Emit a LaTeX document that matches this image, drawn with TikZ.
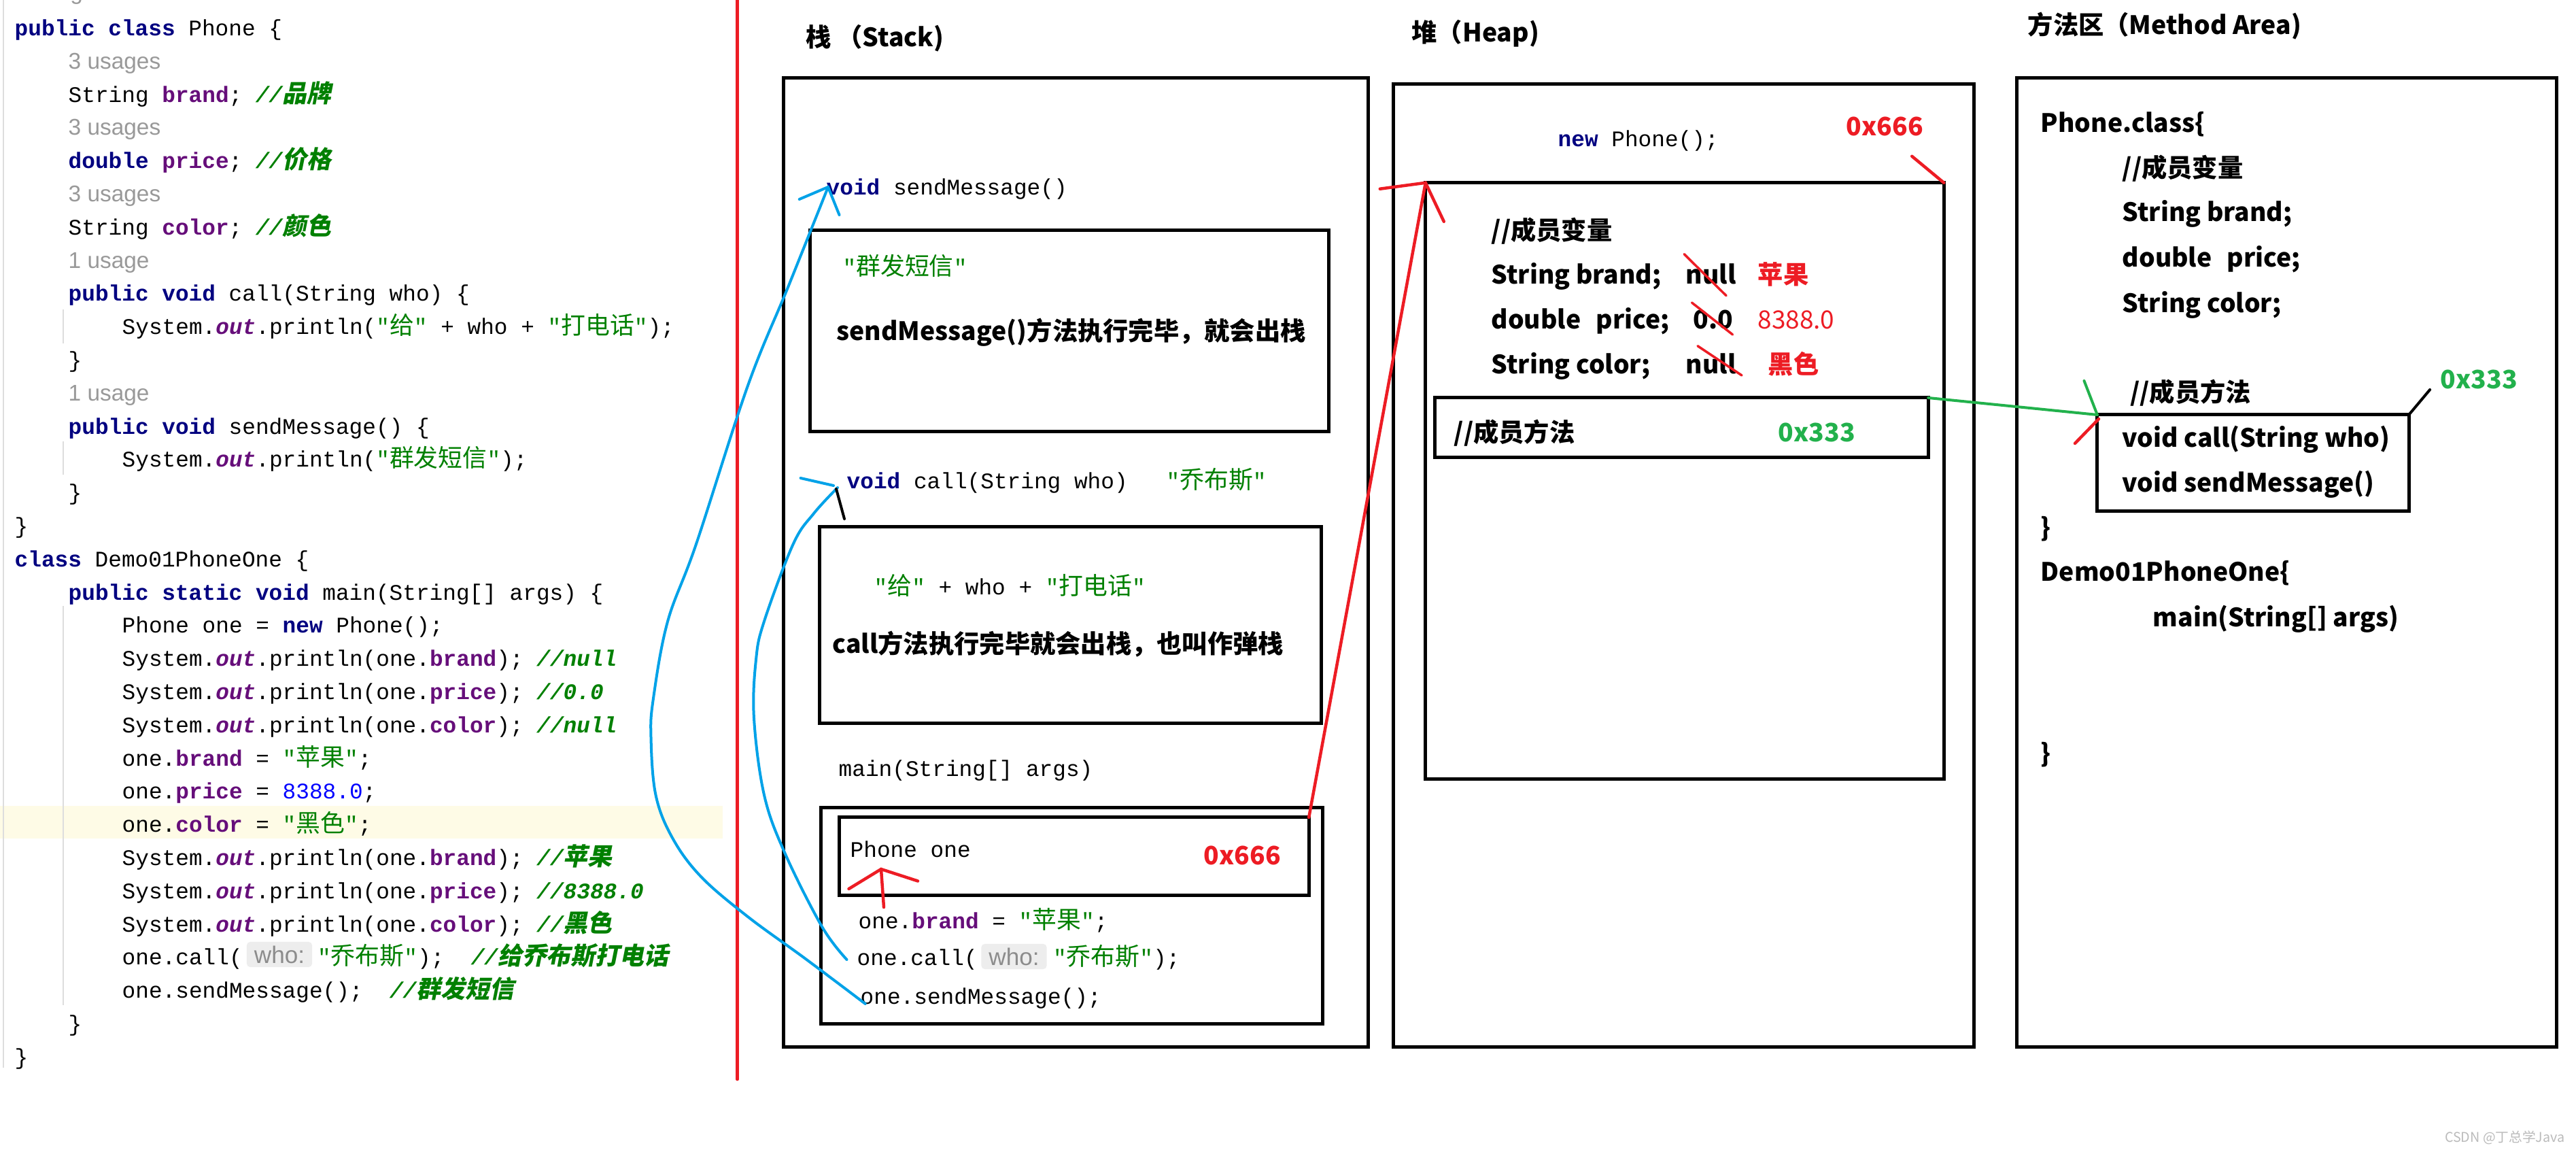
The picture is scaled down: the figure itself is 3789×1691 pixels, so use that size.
\documentclass[tikz,border=0pt]{standalone}
\usepackage{fontspec}
\setmainfont{Liberation Sans}
\setsansfont{Liberation Sans}
\setmonofont{Liberation Mono}
\newfontfamily\zhf{Noto Sans CJK SC}
\newfontfamily\zhfi{Noto Sans CJK SC}[FakeSlant=0.2]
\newfontfamily\yh{Noto Sans CJK SC}
\usetikzlibrary{calc}

\definecolor{kwc}{HTML}{000080}
\definecolor{fldc}{HTML}{660E7A}
\definecolor{strc}{HTML}{008000}
\definecolor{cmtc}{HTML}{008000}
\definecolor{numc}{HTML}{0000FF}
\definecolor{usgc}{HTML}{999999}
\definecolor{hintbg}{HTML}{EDEDED}
\definecolor{hintc}{HTML}{8C8C8C}
\definecolor{pred}{HTML}{ED1C24}
\definecolor{pblue}{HTML}{00A2E8}
\definecolor{pgreen}{HTML}{22B14C}
\definecolor{hlc}{HTML}{FEFBE6}
\definecolor{guide}{HTML}{DDDDDD}
\definecolor{wmc}{HTML}{BBBBBB}

\newcommand\csz{\fontsize{9.32pt}{11pt}\selectfont}
\newcommand\zh[1]{{\zhf\mdseries\upshape\fontsize{10.2pt}{11pt}\selectfont #1}}
\newcommand\zhi[1]{{\color{cmtc}\zhfi\bfseries\fontsize{10.2pt}{11pt}\selectfont #1}}
\newcommand\K[1]{{\color{kwc}\bfseries #1}}
\newcommand\F[1]{{\color{fldc}\bfseries #1}}
\newcommand\Out{{\color{fldc}\bfseries\itshape out}}
\newcommand\Str[1]{{\color{strc}"\zh{#1}"}}
\newcommand\Cm[1]{{\color{cmtc}\bfseries\itshape #1}}
\newcommand\Num[1]{{\color{numc}#1}}

\tikzset{
  box/.style={draw=black, line width=0.05cm, inner sep=0pt, outer sep=0pt},
  code/.style={anchor=base west, inner sep=0pt, font=\csz\ttfamily},
  usg/.style={anchor=base west, inner sep=0pt, font=\fontsize{9.5pt}{11pt}\selectfont\sffamily, text=usgc},
  bt/.style={anchor=base west, inner sep=0pt, font=\yh\bfseries\fontsize{10.6pt}{13pt}\selectfont},
  redl/.style={draw=pred, line width=0.045cm, line cap=round},
  bluel/.style={draw=pblue, line width=0.04cm, line cap=round},
  greenl/.style={draw=pgreen, line width=0.04cm, line cap=round},
  hint/.style={fill=hintbg, rounded corners=0.05cm, inner sep=0pt, minimum width=0.96cm, minimum height=0.37cm, text=hintc, font=\fontsize{10pt}{11pt}\selectfont\sffamily},
}

\begin{document}
\begin{tikzpicture}[x=0.01cm,y=-0.01cm]
\useasboundingbox (0,0) rectangle (3789,1691);
\fill[white] (0,0) rectangle (3789,1691);

% ---------------- code panel ----------------
\fill[hlc] (0,1185) rectangle (1063,1233);
\draw[guide, line width=0.02cm] (5,0) -- (5,1570);
\draw[guide, line width=0.015cm] (93,455) -- (93,505) (93,649) -- (93,698) (93,891) -- (93,1478);

\node[usg] (c0) at (21,0) {2 usages};
\node[code] (c1) at (21,52.5) {\K{public class} Phone \{};
\node[usg] (c2) at (100,101.3) {3 usages};
\node[code] (c3) at (100,150.1) {String \F{brand}; \Cm{//}\zhi{品牌}};
\node[usg] (c4) at (100,198.9) {3 usages};
\node[code] (c5) at (100,247.7) {\K{double} \F{price}; \Cm{//}\zhi{价格}};
\node[usg] (c6) at (100,296.5) {3 usages};
\node[code] (c7) at (100,345.3) {String \F{color}; \Cm{//}\zhi{颜色}};
\node[usg] (c8) at (100,394.1) {1 usage};
\node[code] (c9) at (100,442.9) {\K{public void} call(String who) \{};
\node[code] (c10) at (179,491.7) {System.\Out.println(\Str{给} + who + \Str{打电话});};
\node[code] (c11) at (100,540.5) {\}};
\node[usg] (c12) at (100,589.3) {1 usage};
\node[code] (c13) at (100,638.1) {\K{public void} sendMessage() \{};
\node[code] (c14) at (179,686.9) {System.\Out.println(\Str{群发短信});};
\node[code] (c15) at (100,735.7) {\}};
\node[code] (c16) at (21,784.5) {\}};
\node[code] (c17) at (21,833.3) {\K{class} Demo01PhoneOne \{};
\node[code] (c18) at (100,882.1) {\K{public static void} main(String[] args) \{};
\node[code] (c19) at (179,930.9) {Phone one = \K{new} Phone();};
\node[code] (c20) at (179,979.7) {System.\Out.println(one.\F{brand}); \Cm{//null}};
\node[code] (c21) at (179,1028.5) {System.\Out.println(one.\F{price}); \Cm{//0.0}};
\node[code] (c22) at (179,1077.3) {System.\Out.println(one.\F{color}); \Cm{//null}};
\node[code] (c23) at (179,1126.1) {one.\F{brand} = \Str{苹果};};
\node[code] (c24) at (179,1174.9) {one.\F{price} = \Num{8388.0};};
\node[code] (c25) at (179,1223.7) {one.\F{color} = \Str{黑色};};
\node[code] (c26) at (179,1272.5) {System.\Out.println(one.\F{brand}); \Cm{//}\zhi{苹果}};
\node[code] (c27) at (179,1321.3) {System.\Out.println(one.\F{price}); \Cm{//8388.0}};
\node[code] (c28) at (179,1370.1) {System.\Out.println(one.\F{color}); \Cm{//}\zhi{黑色}};
\node[code] (c29a) at (179,1418.9) {one.call(};
\node[hint] (c29h) at (411,1403.5) {who:};
\node[code] (c29b) at (466.5,1418.9) {\Str{乔布斯});\ \ \Cm{//}\zhi{给乔布斯打电话}};
\node[code] (c30) at (179,1467.7) {one.sendMessage();\ \ \Cm{//}\zhi{群发短信}};
\node[code] (c31) at (100,1516.5) {\}};
\node[code] (c32) at (21,1565.3) {\}};

% divider
\draw[redl] (1084.5,0) -- (1084.5,1587);

% ---------------- stack ----------------
\node[bt] (stitle) at (1185,69) {栈 （Stack)};
\node[box, minimum width=8.59cm, minimum height=14.24cm] (stack) at (1582.5,827) {};
\node[code] (ssm) at (1215,287) {\K{void} sendMessage()};
\node[box, minimum width=7.62cm, minimum height=2.95cm] (smbox) at (1573,486.5) {};
\node[code] (sqf) at (1239,405) {\Str{群发短信}};
\node[bt] (sdone1) at (1230,501) {sendMessage()方法执行完毕，就会出栈};
\node[code] (scall) at (1245,718.5) {\K{void} call(String who)};
\node[code] (sjobs) at (1715,718.5) {\Str{乔布斯}};
\node[box, minimum width=7.37cm, minimum height=2.88cm] (callbox) at (1574.5,919) {};
\node[code] (sgei) at (1285,874) {\Str{给} + who + \Str{打电话}};
\node[bt] (sdone2) at (1224,960.6) {call方法执行完毕就会出栈，也叫作弹栈};
\node[code] (smain) at (1233,1141) {main(String[] args)};
\node[box, minimum width=7.37cm, minimum height=3.17cm] (mainbox) at (1576.5,1346.5) {};
\node[box, minimum width=6.905cm, minimum height=1.14cm] (phonebox) at (1579.75,1259) {};
\node[code] (sphone) at (1250,1260.5) {Phone one};
\node[bt, text=pred] (s666) at (1770,1271) {0x666};
\node[code] (sbrand) at (1262,1365.5) {one.\F{brand} = \Str{苹果};};
\node[code] (scalla) at (1260,1419.5) {one.call(};
\node[hint] (scallh) at (1491.5,1406.5) {who:};
\node[code] (scallb) at (1548.5,1419.5) {\Str{乔布斯});};
\node[code] (ssend) at (1265,1476.5) {one.sendMessage();};

% ---------------- heap ----------------
\node[bt] (htitle) at (2076,62) {堆（Heap)};
\node[box, minimum width=8.53cm, minimum height=14.15cm] (heap) at (2476.5,831.5) {};
\node[code] (hnew) at (2291,215.5) {\K{new} Phone();};
\node[bt, text=pred] (h666) at (2715,200) {0x666};
\node[box, minimum width=7.62cm, minimum height=8.76cm] (objbox) at (2478,707) {};
\node[bt] (hmv) at (2193,353) {//成员变量};
\node[bt] (hb) at (2193,417) {String brand;};
\node[bt] (hbv) at (2479,417) {null};
\node[bt, text=pred] (hbn) at (2585,417) {苹果};
\node[bt] (hp) at (2193,483.4) {double\hspace{0.6em}price;};
\node[bt] (hpv) at (2490,483.4) {0.0};
\node[anchor=base west, inner sep=0pt, font=\yh\fontsize{10.5pt}{12pt}\selectfont, text=pred] (hpn) at (2585,483.4) {8388.0};
\node[bt] (hc) at (2193,549.7) {String color;};
\node[bt] (hcv) at (2479,549.7) {null};
\node[bt, text=pred] (hcn) at (2600,549.7) {黑色};
\node[box, minimum width=7.25cm, minimum height=0.87cm] (mref) at (2473.5,628.5) {};
\node[bt] (hmm) at (2138,649) {//成员方法};
\node[bt, text=pgreen] (h333) at (2615,649) {0x333};

% ---------------- method area ----------------
\node[bt] (mtitle) at (2982,50.7) {方法区（Method Area)};
\node[box, minimum width=7.93cm, minimum height=14.24cm] (marea) at (3363.5,827) {};
\node[bt] (m1) at (3001,195) {Phone.class\{};
\node[bt] (m2) at (3121,261) {//成员变量};
\node[bt] (m3) at (3121,326) {String brand;};
\node[bt] (m4) at (3121,392.6) {double\hspace{0.6em}price;};
\node[bt] (m5) at (3121,459) {String color;};
\node[bt] (m6) at (3132.5,590.5) {//成员方法};
\node[bt, text=pgreen] (m333) at (3589,571) {0x333};
\node[box, minimum width=4.58cm, minimum height=1.41cm] (mbox) at (3314,680.5) {};
\node[bt] (m7) at (3121,657) {void call(String who)};
\node[bt] (m8) at (3121,723) {void sendMessage()};
\node[bt] (m9) at (3001,789.5) {\}};
\node[bt] (m10) at (3001,854) {Demo01PhoneOne\{};
\node[bt] (m11) at (3166,921) {main(String[] args)};
\node[bt] (m12) at (3001,1121) {\}};

\node[anchor=base east, inner sep=0pt, font=\zhf\fontsize{5.6pt}{7pt}\selectfont, text=wmc] (wm) at (3773,1679) {CSDN @丁总学Java};

% ---------------- connectors ----------------
% stack Phone one -> heap object
\draw[redl] (phonebox.north east) -- (objbox.north west);
\draw[redl] ($(objbox.north west)+(-67,9)$) -- (objbox.north west) -- ++(27,57);
% 0x666 tick
\draw[redl] ($(objbox.north east)+(-47,-39)$) -- (objbox.north east);
% one.brand -> Phone one
\coordinate (rt) at (1296,1278);
\draw[redl] (1300,1334) -- (rt);
\draw[redl] (1248.5,1307) -- (rt) -- (1350,1295.5);
% strikes
\draw[redl, line width=0.035cm] (2477,373.5) -- (2539,434.7);
\draw[redl, line width=0.035cm] (2488.5,445) -- (2548.5,492);
\draw[redl, line width=0.035cm] (2497,508.7) -- (2562,552);
% method ref -> method area
\draw[greenl] (mref.north east) -- (mbox.north west);
\draw[greenl] (3065.5,560) -- (mbox.north west);
\draw[redl] (3052,652) -- (3087,616);
\draw[line width=0.04cm, line cap=round] (mbox.north east) -- ++(31,-37);

% blue call curves
\coordinate (b1s) at (1245.5,1411);
\coordinate (b1e) at (1232,717);
\draw[bluel] plot[smooth, tension=0.6] coordinates {(b1s) (1209,1362.5) (1154.5,1254.5) (1124,1169) (1109,1056) (1112,970) (1124,913.6) (1166.7,800) (1197,755) (b1e)};
\draw[bluel] (1177.6,703) -- (1226,714);
\draw[line width=0.04cm, line cap=round] (1230,719) -- (1242,763);

\coordinate (b2s) at (1272.7,1476);
\coordinate (b2e) at (1218,275);
\draw[bluel] plot[smooth, tension=0.6] coordinates {(b2s) (1185,1410) (1100,1348) (1031,1289) (989,1232) (964.5,1169) (957.5,1084) (961,1027) (982,914) (1024,800) (1100,567) (1160,420) (b2e)};
\draw[bluel] (1175.7,293) -- (b2e) -- (1234.5,316);
\end{tikzpicture}
\end{document}
